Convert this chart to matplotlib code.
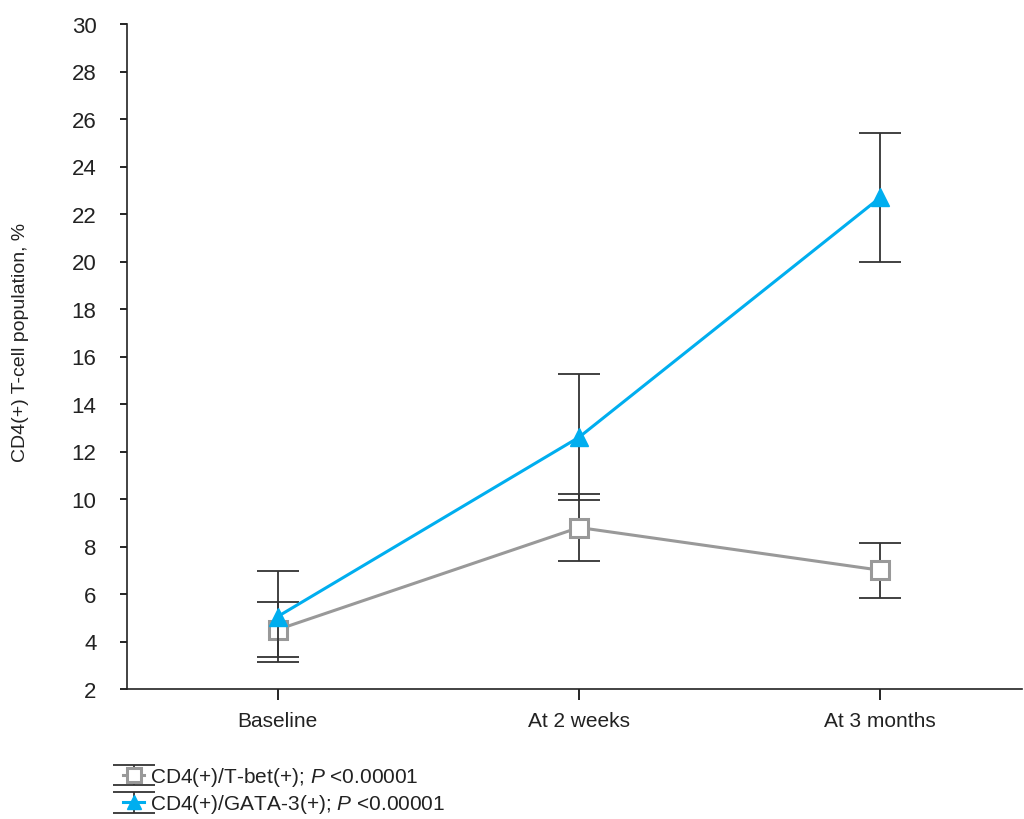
import matplotlib
matplotlib.use("Agg")
import matplotlib.pyplot as plt
import numpy as np

categories = ["Baseline", "At 2 weeks", "At 3 months"]
tbet_mean = [4.5, 8.8, 7.0]
tbet_err = [1.15, 1.4, 1.16]
gata_mean = [5.05, 12.6, 22.7]
gata_err = [1.9, 2.65, 2.7]
yticks = list(range(2, 31, 2))
label_tbet = "CD4(+)/T-bet(+); $\\mathit{P}$ <0.00001"
label_gata = "CD4(+)/GATA-3(+); $\\mathit{P}$ <0.00001"

fam = ["Liberation Sans", "DejaVu Sans"]
plt.rcParams["font.family"] = fam
plt.rcParams["mathtext.fontset"] = "custom"
plt.rcParams["mathtext.it"] = "Liberation Sans:italic"
plt.rcParams["mathtext.rm"] = "Liberation Sans"

fig = plt.figure(figsize=(10.24, 8.2), dpi=100)
ax = fig.add_axes([127/1024, 1-690/820, (1022-127)/1024, (690-25)/820])

x = np.arange(len(categories))
gray = "#999999"
blue = "#00aeef"
ecol = "#333333"
txt = "#222222"

eb1 = ax.errorbar(x, tbet_mean, yerr=tbet_err, color=gray, lw=2.2, marker="s",
                  ms=13, mfc="white", mec=gray, ecolor=ecol, elinewidth=1.3,
                  capsize=15, capthick=1.3, label=label_tbet, zorder=3)
eb1[0].set_markeredgewidth(2.2)
eb2 = ax.errorbar(x, gata_mean, yerr=gata_err, color=blue, lw=2.2, marker="^",
                  ms=13, mfc=blue, mec=blue, ecolor=ecol, elinewidth=1.3,
                  capsize=15, capthick=1.3, label=label_gata, zorder=4)

ax.set_xlim(-0.5, 2.47)
ax.set_ylim(2, 30)
ax.set_yticks(yticks)
ax.set_xticks(x)
ax.set_xticklabels(categories)
for s in ["top", "right"]:
    ax.spines[s].set_visible(False)
for s in ["left", "bottom"]:
    ax.spines[s].set_linewidth(1.2)
    ax.spines[s].set_color("#222222")
ax.tick_params(axis="y", direction="out", length=5, width=1.2, labelsize=16, pad=17,
               labelcolor=txt)
ax.tick_params(axis="x", direction="out", length=8, width=1.2, labelsize=15, pad=8,
               labelcolor=txt)
ax.set_ylabel("CD4(+) T-cell population, %", fontsize=14, color=txt)
ax.yaxis.set_label_coords(-0.11, 0.523)

leg = fig.legend(loc="upper left", bbox_to_anchor=(115/1024, 1-758/820), frameon=False,
                 fontsize=15, handlelength=1.0, handletextpad=0.3, labelspacing=0.2,
                 borderaxespad=0, markerscale=0.75)
for t in leg.get_texts():
    t.set_color(txt)

fig.savefig("out.png", dpi=100)
